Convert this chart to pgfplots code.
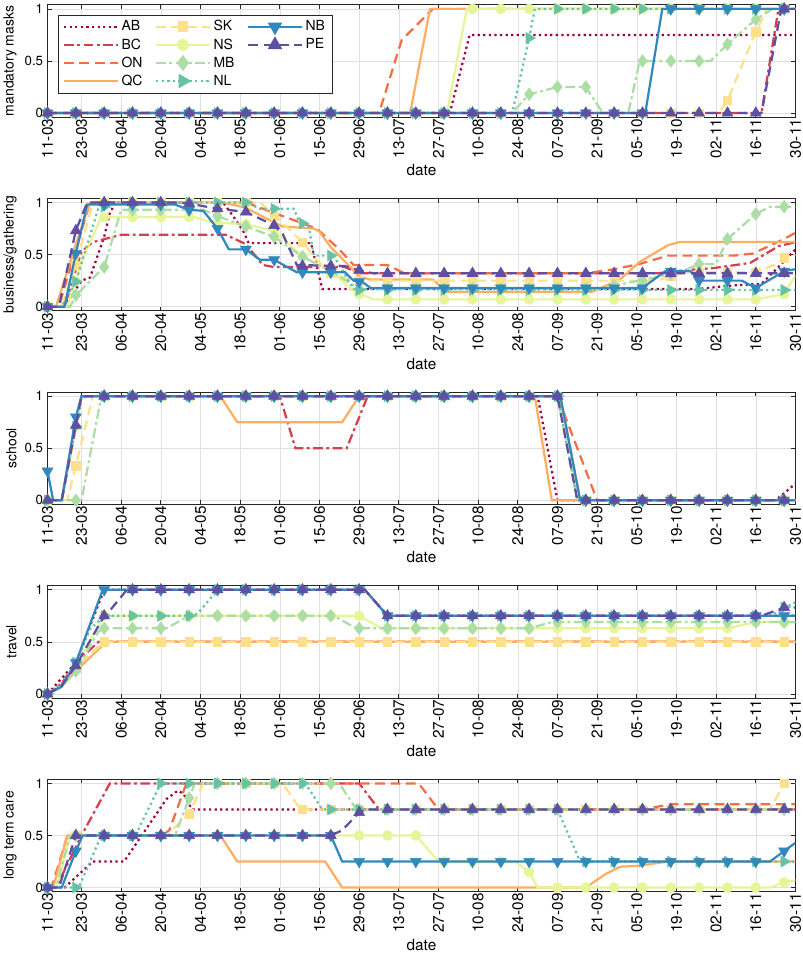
\documentclass[border=0pt]{standalone}
\usepackage{fontspec}
\setmainfont{TeX Gyre Heros}
\usepackage{pgfplots}
\pgfplotsset{compat=1.18}
\usepackage{pgfplotstable}

% Spectral palette, one colour per province
\definecolor{cAB}{HTML}{9E0142}
\definecolor{cBC}{HTML}{D53E4F}
\definecolor{cON}{HTML}{F46D43}
\definecolor{cQC}{HTML}{FDAE61}
\definecolor{cSK}{HTML}{FEE08B}
\definecolor{cNS}{HTML}{E6F598}
\definecolor{cMB}{HTML}{ABDDA4}
\definecolor{cNL}{HTML}{66C2A5}
\definecolor{cNB}{HTML}{3288BD}
\definecolor{cPE}{HTML}{5E4FA2}

\tikzset{
  lAB/.style={color=cAB, line width=1.6pt, dash pattern=on 1.6pt off 2.4pt},
  lBC/.style={color=cBC, line width=1.6pt, dash pattern=on 7pt off 2.5pt on 2pt off 2.5pt},
  lON/.style={color=cON, line width=1.6pt, dash pattern=on 7pt off 4pt},
  lQC/.style={color=cQC, line width=1.6pt},
  lSK/.style={color=cSK, line width=1.6pt, dash pattern=on 7pt off 4pt},
  lNS/.style={color=cNS, line width=1.6pt},
  lMB/.style={color=cMB, line width=1.6pt, dash pattern=on 7pt off 2.5pt on 2pt off 2.5pt},
  lNL/.style={color=cNL, line width=1.6pt, dash pattern=on 1.6pt off 2.4pt},
  lNB/.style={color=cNB, line width=1.6pt},
  lPE/.style={color=cPE, line width=1.6pt, dash pattern=on 7pt off 4pt},
  mSK/.style={color=cSK, mark=square*, mark size=3pt, mark options={solid, draw=cSK, fill=cSK}},
  mNS/.style={color=cNS, mark=*, mark size=3.6pt, mark options={solid, draw=cNS, fill=cNS}},
  mMB/.style={color=cMB, mark=diamond*, mark size=4.5pt, mark options={solid, draw=cMB, fill=cMB}},
  mNL/.style={color=cNL, mark=triangle*, mark size=4.5pt, mark options={solid, rotate=-90, draw=cNL, fill=cNL}},
  mNB/.style={color=cNB, mark=triangle*, mark size=4.5pt, mark options={solid, rotate=180, draw=cNB, fill=cNB}},
  mPE/.style={color=cPE, mark=triangle*, mark size=4.5pt, mark options={solid, draw=cPE, fill=cPE}},
}

\pgfplotsset{
  panel/.style={
    scale only axis, width=18.85cm, height=2.835cm,
    xmin=0, xmax=264, ymin=-0.04, ymax=1.04,
    xtick={0,12,26,40,54,68,82,96,110,124,138,152,166,180,194,208,222,236,250,264},
    xticklabels={11-03,23-03,06-04,20-04,04-05,18-05,01-06,15-06,29-06,13-07,27-07,10-08,24-08,07-09,21-09,05-10,19-10,02-11,16-11,30-11},
    xticklabel style={rotate=90, anchor=east, inner sep=1pt, font=\fontsize{11}{13}\selectfont},
    ytick={0,0.5,1}, yticklabels={0,0.5,1},
    yticklabel style={inner sep=3pt, font=\fontsize{9.5}{11}\selectfont},
    /pgf/number format/assume math mode=true,
    xlabel style={font=\fontsize{11}{13}\selectfont},
    ylabel style={inner sep=2.5pt, font=\fontsize{10}{12}\selectfont},
    grid=major, grid style={black!12, line width=0.4pt},
    axis line style={black!85, line width=0.5pt},
    tick style={black!85, line width=0.5pt}, major tick length=3pt,
    tick align=inside, xlabel={date},
    clip mode=individual,
  },
  legm/.style={legend image code/.code={
      \draw[##1] (0cm,0cm) -- (1.35cm,0cm);
      \draw[##1,#1] plot coordinates {(0.675cm,0cm)};}},
}

% marker positions, one row every 10 days
\pgfplotstableread{
d   SK   NS   MB   NL   NB   PE
0   0    0    0    0    0    0
10  0    0    0    0    0    0
20  0    0    0    0    0    0
30  0    0    0    0    0    0
40  0    0    0    0    0    0
50  0    0    0    0    0    0
60  0    0    0    0    0    0
70  0    0    0    0    0    0
80  0    0    0    0    0    0
90  0    0    0    0    0    0
100 0    0    0    0    0    0
110 0    0    0    0    0    0
120 0    0    0    0    0    0
130 0    0    0    0    0    0
140 0    0    0    0    0    0
150 0    1    0    0    0    0
160 0    1    0    0    0    0
170 0    1    0.18 0.72 0    0
180 0    1    0.25 1    0    0
190 0    1    0.25 1    0    0
200 0    1    0    1    0    0
210 0    1    0.5  1    0    0
220 0    1    0.5  1    1    0
230 0    1    0.5  1    1    0
240 0.12 1    0.66 1    1    0
250 0.78 1    0.9  1    1    0
260 1    1    1    1    1    1
}\tA

\pgfplotstableread{
d   SK   NS   MB   NL   NB   PE
0   0    0    0    0    0    0
10  0.4  0.25 0.11 0.24 0.51 0.73
20  1    0.86 0.38 0.96 0.98 1
30  1    0.86 0.93 1    0.98 1
40  1    0.86 0.93 1    0.98 1
50  1    0.86 0.93 1    0.93 0.99
60  1    0.8  0.87 1    0.75 0.94
70  1    0.79 0.77 1    0.55 0.91
80  0.87 0.73 0.67 0.94 0.45 0.78
90  0.62 0.48 0.48 0.8  0.33 0.39
100 0.32 0.34 0.34 0.49 0.33 0.39
110 0.25 0.12 0.17 0.16 0.24 0.35
120 0.25 0.07 0.17 0.16 0.18 0.32
130 0.25 0.07 0.17 0.16 0.18 0.32
140 0.25 0.07 0.17 0.16 0.18 0.32
150 0.25 0.07 0.17 0.16 0.18 0.32
160 0.25 0.07 0.17 0.16 0.18 0.32
170 0.25 0.07 0.17 0.16 0.18 0.32
180 0.25 0.07 0.17 0.16 0.18 0.32
190 0.25 0.07 0.17 0.16 0.18 0.32
200 0.25 0.07 0.2  0.16 0.18 0.32
210 0.25 0.07 0.25 0.16 0.18 0.32
220 0.29 0.07 0.31 0.16 0.34 0.32
230 0.33 0.07 0.41 0.16 0.25 0.32
240 0.33 0.07 0.65 0.16 0.25 0.32
250 0.33 0.07 0.89 0.16 0.18 0.32
260 0.47 0.12 0.96 0.16 0.34 0.32
}\tB

\pgfplotstableread{
d   SK   NS   MB   NL   NB   PE
0   0    0    0    0    0.28 0
10  0.33 0.71 0    0.71 0.8  0.72
20  1    1    1    1    1    1
30  1    1    1    1    1    1
40  1    1    1    1    1    1
50  1    1    1    1    1    1
60  1    1    1    1    1    1
70  1    1    1    1    1    1
80  1    1    1    1    1    1
90  1    1    1    1    1    1
100 1    1    1    1    1    1
110 1    1    1    1    1    1
120 1    1    1    1    1    1
130 1    1    1    1    1    1
140 1    1    1    1    1    1
150 1    1    1    1    1    1
160 1    1    1    1    1    1
170 1    1    1    1    1    1
180 1    1    1    1    1    1
190 0    0    0    0    0    0
200 0    0    0    0    0    0
210 0    0    0    0    0    0
220 0    0    0    0    0    0
230 0    0    0    0    0    0
240 0    0    0    0    0    0
250 0    0    0    0    0    0
260 0    0    0    0    0    0
}\tC

\pgfplotstableread{
d   SK   NS   MB   NL   NB   PE
0   0    0    0    0    0    0
10  0.25 0.27 0.22 0.3  0.3  0.27
20  0.5  0.75 0.63 0.75 1    0.75
30  0.5  0.75 0.63 0.75 1    1
40  0.5  0.75 0.63 0.75 1    1
50  0.5  0.75 0.75 0.75 1    1
60  0.5  0.75 0.75 1    1    1
70  0.5  0.75 0.75 1    1    1
80  0.5  0.75 0.75 1    1    1
90  0.5  0.75 0.75 1    1    1
100 0.5  0.75 0.75 1    1    1
110 0.5  0.75 0.63 1    1    1
120 0.5  0.63 0.63 0.75 0.75 0.75
130 0.5  0.63 0.63 0.75 0.75 0.75
140 0.5  0.63 0.63 0.75 0.75 0.75
150 0.5  0.63 0.63 0.75 0.75 0.75
160 0.5  0.63 0.63 0.75 0.75 0.75
170 0.5  0.63 0.63 0.75 0.75 0.75
180 0.5  0.63 0.69 0.75 0.75 0.75
190 0.5  0.63 0.69 0.75 0.75 0.75
200 0.5  0.63 0.69 0.75 0.75 0.75
210 0.5  0.63 0.69 0.75 0.75 0.75
220 0.5  0.63 0.69 0.75 0.75 0.75
230 0.5  0.63 0.69 0.75 0.75 0.75
240 0.5  0.63 0.69 0.75 0.75 0.75
250 0.5  0.69 0.69 0.75 0.75 0.75
260 0.5  0.69 0.69 0.83 0.75 0.83
}\tD

\pgfplotstableread{
d   SK   NS   MB   NL   NB   PE
0   0    0    0    0    0    0
10  0.5  0.5  0.5  0    0.35 0.5
20  0.5  0.5  0.5  0.5  0.5  0.5
30  0.5  0.5  0.5  0.5  0.5  0.5
40  0.5  0.5  0.5  1    0.5  0.5
50  0.71 0.5  0.86 1    0.5  0.5
60  1    0.5  1    1    0.5  0.5
70  1    0.5  1    1    0.5  0.5
80  1    0.5  1    1    0.5  0.5
90  0.75 0.5  1    1    0.5  0.5
100 0.75 0.5  1    0.75 0.5  0.5
110 0.75 0.5  0.75 0.75 0.25 0.72
120 0.75 0.5  0.75 0.75 0.25 0.75
130 0.75 0.5  0.75 0.75 0.25 0.75
140 0.75 0.25 0.75 0.75 0.25 0.75
150 0.75 0.25 0.75 0.75 0.25 0.75
160 0.75 0.25 0.75 0.75 0.25 0.75
170 0.75 0.15 0.75 0.75 0.25 0.75
180 0.75 0    0.75 0.75 0.25 0.75
190 0.75 0    0.75 0.25 0.25 0.75
200 0.75 0    0.75 0.25 0.25 0.75
210 0.75 0    0.75 0.25 0.25 0.75
220 0.75 0    0.75 0.25 0.25 0.75
230 0.75 0    0.75 0.25 0.25 0.75
240 0.75 0    0.75 0.25 0.25 0.75
250 0.75 0    0.75 0.25 0.25 0.75
260 1    0.05 0.75 0.25 0.35 0.75
}\tE

\begin{document}
\begin{tikzpicture}

% ---------------- mandatory masks
\begin{axis}[panel, ylabel={mandatory masks},
  legend image code/.code={\draw[#1] (0cm,0cm) -- (1.35cm,0cm);},
  legend columns=3, legend cell align=left,
  legend style={at={(0.0146,0.912)}, anchor=north west, draw=black!85,
    line width=0.5pt, fill=white, font=\fontsize{10}{12.5}\selectfont,
    /tikz/every even column/.append style={column sep=7pt}}]
\addplot[lAB, forget plot] coordinates {(0,0) (142,0) (149,0.75) (264,0.75)};
\addplot[lBC, forget plot] coordinates {(0,0) (252,0) (258,1) (264,1)};
\addplot[lON, forget plot] coordinates {(0,0) (117,0) (125,0.7) (136,1) (264,1)};
\addplot[lQC, forget plot] coordinates {(0,0) (128,0) (135,1) (264,1)};
\addplot[lSK, forget plot] coordinates {(0,0) (237,0) (240,0.12) (250,0.78) (254,1) (264,1)};
\addplot[only marks, mSK, forget plot] table[x=d, y=SK] {\tA};
\addplot[lNS, forget plot] coordinates {(0,0) (141,0) (148,1) (264,1)};
\addplot[only marks, mNS, forget plot] table[x=d, y=NS] {\tA};
\addplot[lMB, forget plot] coordinates {(0,0) (164,0) (170,0.18) (180,0.25) (190,0.25) (196,0) (205,0) (209,0.5) (234,0.5) (240,0.66) (250,0.9) (256,1) (264,1)};
\addplot[only marks, mMB, forget plot] table[x=d, y=MB] {\tA};
\addplot[lNL, forget plot] coordinates {(0,0) (164,0) (170,0.72) (172,1) (264,1)};
\addplot[only marks, mNL, forget plot] table[x=d, y=NL] {\tA};
\addplot[lNB, forget plot] coordinates {(0,0) (211,0) (217,1) (264,1)};
\addplot[only marks, mNB, forget plot] table[x=d, y=NB] {\tA};
\addplot[lPE, forget plot] coordinates {(0,0) (252,0) (259,1) (264,1)};
\addplot[only marks, mPE, forget plot] table[x=d, y=PE] {\tA};
% legend, laid out row by row as three columns
\addlegendimage{lAB}\addlegendentry{AB}
\addlegendimage{lSK, legm=mSK}\addlegendentry{SK}
\addlegendimage{lNB, legm=mNB}\addlegendentry{NB}
\addlegendimage{lBC}\addlegendentry{BC}
\addlegendimage{lNS, legm=mNS}\addlegendentry{NS}
\addlegendimage{lPE, legm=mPE}\addlegendentry{PE}
\addlegendimage{lON}\addlegendentry{ON}
\addlegendimage{lMB, legm=mMB}\addlegendentry{MB}
\addlegendimage{empty legend}\addlegendentry{}
\addlegendimage{lQC}\addlegendentry{QC}
\addlegendimage{lNL, legm=mNL}\addlegendentry{NL}
\end{axis}

% ---------------- business/gathering
\begin{axis}[panel, at={(0,-4.88cm)}, ylabel={business/gathering}]
\addplot[lAB] coordinates {(0,0) (6,0) (12,0.25) (15,0.28) (20,0.67) (22,0.9) (24,1) (62,1) (66,0.85) (69,0.73) (71,0.61) (93,0.61) (97,0.17) (230,0.17) (240,0.2) (252,0.22) (258,0.38) (264,0.55)};
\addplot[lBC] coordinates {(0,0) (6,0) (12,0.53) (16,0.62) (26,0.69) (63,0.69) (70,0.6) (76,0.4) (80,0.38) (105,0.38) (110,0.32) (215,0.32) (225,0.35) (235,0.37) (248,0.42) (258,0.58) (264,0.62)};
\addplot[lON] coordinates {(0,0) (4,0) (10,0.55) (15,1) (70,1) (80,0.9) (85,0.85) (95,0.75) (103,0.55) (108,0.4) (120,0.4) (126,0.32) (190,0.32) (200,0.36) (209,0.41) (219,0.49) (242,0.49) (249,0.51) (260,0.65) (264,0.71)};
\addplot[lQC] coordinates {(0,0) (3,0) (10,0.6) (15,1) (62,1) (70,0.95) (77,0.85) (83,0.77) (94,0.75) (96,0.72) (100,0.57) (108,0.35) (110,0.29) (114,0.26) (136,0.26) (141,0.14) (192,0.14) (202,0.26) (209,0.43) (219,0.59) (223,0.62) (264,0.62)};
\addplot[lSK] coordinates {(0,0) (5,0) (10,0.4) (16,1) (75,1) (85,0.75) (90,0.62) (95,0.45) (100,0.32) (108,0.25) (215,0.25) (225,0.33) (250,0.33) (258,0.42) (264,0.5)};
\addplot[only marks, mSK] table[x=d, y=SK] {\tB};
\addplot[lNS] coordinates {(0,0) (7,0) (13,0.5) (19,0.86) (52,0.86) (58,0.81) (70,0.79) (80,0.73) (90,0.48) (100,0.34) (108,0.15) (115,0.07) (250,0.07) (260,0.12) (264,0.3)};
\addplot[only marks, mNS] table[x=d, y=NS] {\tB};
\addplot[lMB] coordinates {(0,0) (8,0) (10,0.11) (20,0.38) (26,0.93) (55,0.93) (62,0.85) (70,0.77) (80,0.67) (90,0.48) (100,0.34) (110,0.17) (195,0.17) (205,0.23) (218,0.3) (225,0.35) (230,0.41) (236,0.41) (240,0.65) (250,0.89) (255,0.96) (264,0.96)};
\addplot[only marks, mMB] table[x=d, y=MB] {\tB};
\addplot[lNL] coordinates {(0,0) (5,0) (10,0.24) (18,0.95) (22,1) (72,1) (74,0.94) (87,0.94) (89,0.8) (92,0.8) (94,0.49) (101,0.49) (108,0.17) (264,0.16)};
\addplot[only marks, mNL] table[x=d, y=NL] {\tB};
\addplot[lNB] coordinates {(0,0) (6,0) (10,0.51) (14,0.98) (45,0.98) (50,0.93) (55,0.92) (60,0.75) (64,0.55) (70,0.55) (75,0.45) (80,0.45) (88,0.33) (105,0.33) (108,0.25) (111,0.24) (114,0.18) (210,0.18) (218,0.34) (227,0.34) (230,0.25) (245,0.25) (250,0.18) (260,0.34) (264,0.36)};
\addplot[only marks, mNB] table[x=d, y=NB] {\tB};
\addplot[lPE] coordinates {(0,0) (4,0) (10,0.73) (14,1) (45,1) (50,0.99) (60,0.94) (70,0.91) (80,0.78) (83,0.7) (88,0.4) (105,0.39) (110,0.35) (115,0.32) (264,0.32)};
\addplot[only marks, mPE] table[x=d, y=PE] {\tB};
\end{axis}

% ---------------- school
\begin{axis}[panel, at={(0,-9.76cm)}, ylabel={school}]
\addplot[lAB] coordinates {(0,0) (5,0) (12,1) (173,1) (180,0) (257,0) (264,0.16)};
\addplot[lBC] coordinates {(0,0) (5,0) (12,1) (82,1) (87.5,0.5) (105.6,0.5) (113,1) (181,1) (188,0) (264,0)};
\addplot[lON] coordinates {(0,0) (5,0) (12,1) (180,1) (194,0) (264,0)};
\addplot[lQC] coordinates {(0,0) (5,0) (12,1) (61,1) (67,0.75) (104,0.75) (110,1) (172,1) (178,0) (264,0)};
\addplot[lSK] coordinates {(0,0) (7,0) (16,1) (181,1) (188,0) (264,0)};
\addplot[only marks, mSK] table[x=d, y=SK] {\tC};
\addplot[lNS] coordinates {(0,0) (5,0) (12,1) (181,1) (188,0) (264,0)};
\addplot[only marks, mNS] table[x=d, y=NS] {\tC};
\addplot[lMB] coordinates {(0,0) (12,0) (19,1) (180,1) (187,0) (264,0)};
\addplot[only marks, mMB] table[x=d, y=MB] {\tC};
\addplot[lNL] coordinates {(0,0) (5,0) (12,1) (180,1) (187,0) (264,0)};
\addplot[only marks, mNL] table[x=d, y=NL] {\tC};
\addplot[lNB] coordinates {(0,0.28) (2,0) (5,0) (10,0.8) (12,1) (181,1) (188,0) (264,0)};
\addplot[only marks, mNB] table[x=d, y=NB] {\tC};
\addplot[lPE] coordinates {(0,0) (5,0) (10,0.72) (12,1) (180,1) (187,0) (264,0)};
\addplot[only marks, mPE] table[x=d, y=PE] {\tC};
\end{axis}

% ---------------- travel
\begin{axis}[panel, at={(0,-14.64cm)}, ylabel={travel}]
\addplot[lAB] coordinates {(0,0) (10,0.3) (20,1) (112,1) (120,0.75) (264,0.75)};
\addplot[lBC] coordinates {(0,0) (5,0.1) (10,0.3) (18,0.5) (264,0.5)};
\addplot[lON] coordinates {(0,0) (5,0.08) (10,0.25) (20,0.5) (264,0.5)};
\addplot[lQC] coordinates {(0,0) (5,0.07) (10,0.22) (15,0.35) (20,0.48) (22,0.5) (264,0.5)};
\addplot[lSK] coordinates {(0,0) (5,0.08) (10,0.25) (20,0.5) (264,0.5)};
\addplot[only marks, mSK] table[x=d, y=SK] {\tD};
\addplot[lNS] coordinates {(0,0) (5,0.08) (10,0.27) (20,0.75) (110,0.75) (118,0.63) (240,0.63) (250,0.69) (264,0.69)};
\addplot[only marks, mNS] table[x=d, y=NS] {\tD};
\addplot[lMB] coordinates {(0,0) (5,0.07) (10,0.22) (18,0.6) (20,0.63) (42,0.63) (50,0.75) (101,0.75) (109,0.63) (170,0.63) (178,0.69) (264,0.69)};
\addplot[only marks, mMB] table[x=d, y=MB] {\tD};
\addplot[lNL] coordinates {(0,0) (5,0.1) (10,0.3) (15,0.62) (20,0.75) (50,0.75) (53,0.77) (60,1) (112,1) (120,0.75) (255,0.75) (264,0.88)};
\addplot[only marks, mNL] table[x=d, y=NL] {\tD};
\addplot[lNB] coordinates {(0,0) (5,0.07) (10,0.3) (19.5,1) (112,1) (120,0.75) (264,0.75)};
\addplot[only marks, mNB] table[x=d, y=NB] {\tD};
\addplot[lPE] coordinates {(0,0) (5,0.08) (10,0.27) (20,0.75) (22,0.8) (28,1) (112,1) (120,0.75) (252,0.75) (260,0.83) (264,0.83)};
\addplot[only marks, mPE] table[x=d, y=PE] {\tD};
\end{axis}

% ---------------- long term care
\begin{axis}[panel, at={(0,-19.52cm)}, ylabel={long term care}]
\addplot[lAB] coordinates {(0,0) (6,0) (16,0.25) (27,0.25) (42,0.85) (46,0.93) (48,0.9) (51,0.75) (264,0.75)};
\addplot[lBC] coordinates {(0,0) (3,0) (12,0.5) (22,1) (110,1) (117,0.75) (264,0.75)};
\addplot[lON] coordinates {(0,0) (2,0.05) (7,0.5) (40,0.5) (43,0.55) (49,1) (131,1) (138,0.75) (210,0.75) (220,0.8) (264,0.8)};
\addplot[lQC] coordinates {(0,0) (2,0) (7,0.5) (61,0.5) (67,0.25) (98,0.25) (104,0) (190,0) (197,0.13) (202,0.2) (209,0.21) (219,0.25) (264,0.25)};
\addplot[lSK] coordinates {(0,0) (3,0) (8,0.5) (42,0.5) (50,0.71) (55,1) (83,1) (88,0.8) (90,0.75) (255,0.75) (260,1) (264,1)};
\addplot[only marks, mSK] table[x=d, y=SK] {\tE};
\addplot[lNS] coordinates {(0,0) (3,0) (8,0.5) (130,0.5) (138,0.25) (165,0.25) (170,0.15) (173,0) (255,0) (260,0.05) (264,0.07)};
\addplot[only marks, mNS] table[x=d, y=NS] {\tE};
\addplot[lMB] coordinates {(0,0) (3,0) (8,0.5) (45,0.5) (52,1) (103,1) (109,0.75) (264,0.75)};
\addplot[only marks, mMB] table[x=d, y=MB] {\tE};
\addplot[lNL] coordinates {(0,0) (11,0) (19,0.5) (31,0.5) (40,1) (91,1) (97,0.75) (180,0.75) (188,0.25) (264,0.25)};
\addplot[only marks, mNL] table[x=d, y=NL] {\tE};
\addplot[lNB] coordinates {(0,0) (5,0) (10,0.35) (12.4,0.5) (100,0.5) (104,0.25) (255,0.25) (264,0.43)};
\addplot[only marks, mNB] table[x=d, y=NB] {\tE};
\addplot[lPE] coordinates {(0,0) (4,0) (10,0.5) (100,0.5) (104,0.55) (110,0.72) (113,0.75) (264,0.75)};
\addplot[only marks, mPE] table[x=d, y=PE] {\tE};
\end{axis}

\end{tikzpicture}
\end{document}
